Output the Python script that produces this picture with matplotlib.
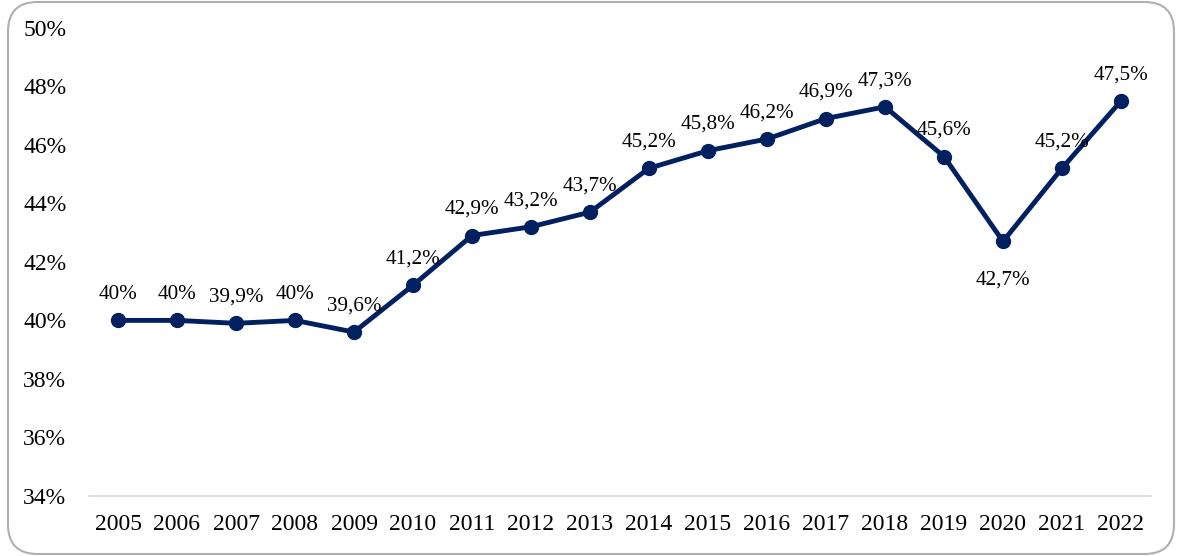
import matplotlib.pyplot as plt
from matplotlib.patches import FancyBboxPatch
from matplotlib.ticker import FuncFormatter

years = ["2005", "2006", "2007", "2008", "2009", "2010", "2011", "2012", "2013",
         "2014", "2015", "2016", "2017", "2018", "2019", "2020", "2021", "2022"]
values = [40.0, 40.0, 39.9, 40.0, 39.6, 41.2, 42.9, 43.2, 43.7,
          45.2, 45.8, 46.2, 46.9, 47.3, 45.6, 42.7, 45.2, 47.5]
labels = ["40%", "40%", "39,9%", "40%", "39,6%", "41,2%", "42,9%", "43,2%", "43,7%",
          "45,2%", "45,8%", "46,2%", "46,9%", "47,3%", "45,6%", "42,7%", "45,2%", "47,5%"]

plt.rcParams['font.family'] = ['Liberation Serif', 'DejaVu Serif']

fig = plt.figure(figsize=(11.8, 5.56), dpi=100)
ax = fig.add_axes([0.075, 0.108, 0.9, 0.842])

x = list(range(len(years)))
ax.plot(x, values, color="#002060", lw=3.5, marker="o", markersize=10, zorder=3)

for i, (v, t) in enumerate(zip(values, labels)):
    if years[i] == "2020":
        ax.annotate(t, (i, v), xytext=(0, -21), textcoords="offset points",
                    ha="center", va="top", fontsize=15.2)
    else:
        ax.annotate(t, (i, v), xytext=(0, 12), textcoords="offset points",
                    ha="center", va="bottom", fontsize=15.2)

ax.set_xlim(-0.5, len(years) - 0.5)
ax.set_ylim(34, 50)
ax.set_yticks(range(34, 51, 2))
ax.yaxis.set_major_formatter(FuncFormatter(lambda v, p: f"{int(v)}%"))
ax.set_xticks(x)
ax.set_xticklabels(years)
ax.tick_params(axis="both", length=0, labelsize=17)
ax.tick_params(axis="y", pad=16)
ax.tick_params(axis="x", pad=13)
for s in ["top", "right", "left"]:
    ax.spines[s].set_visible(False)
ax.spines["bottom"].set_color("#d9d9d9")
ax.spines["bottom"].set_linewidth(1.2)

border = FancyBboxPatch((8 / 1180, 2 / 556), 1166 / 1180, 552 / 556,
                        boxstyle="round,pad=0,rounding_size=0.025",
                        transform=fig.transFigure, fill=False, edgecolor="#b0b0b0",
                        linewidth=1.5, mutation_aspect=1180 / 556)
fig.patches.append(border)

fig.savefig("out.png", dpi=100)
